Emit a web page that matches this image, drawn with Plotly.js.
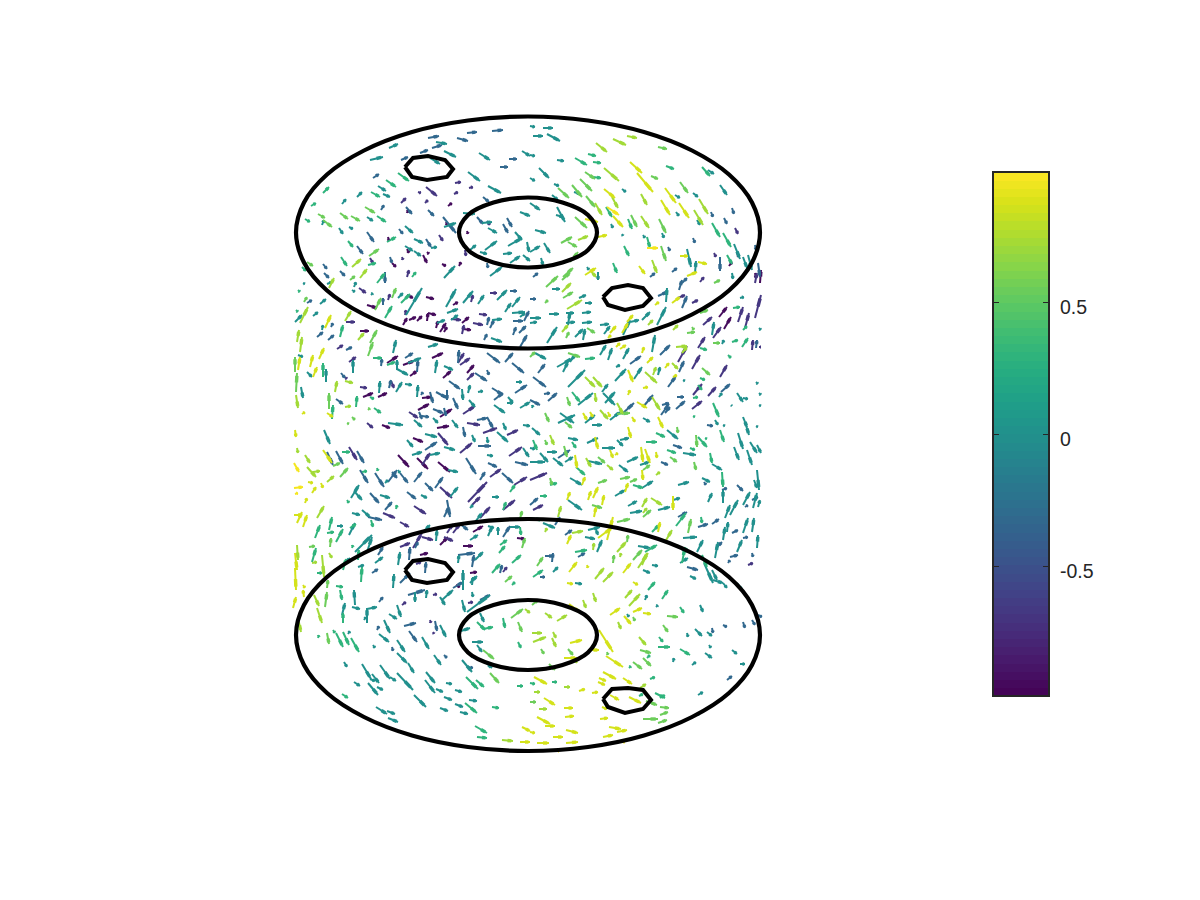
<!DOCTYPE html>
<html>
<head>
<meta charset="utf-8">
<script src="https://cdn.plot.ly/plotly-3.0.1.min.js"></script>
<style>html,body{margin:0;padding:0;background:#fff}</style>
</head>
<body>
<div id="chart" style="width:1200px;height:900px"></div>
<script>
// Rows: tail x, tail y, head x, head y, colour level (index into levelValues)
const arrowsTopLeft = [
428,138,439,136,3, 457,138,468,141,3, 467,133,477,132,3, 492,131,503,130,3, 436,142,447,144,4, 432,148,442,145,3, 420,153,428,150,3,
389,148,398,144,4, 444,151,456,157,4, 401,160,408,157,3, 370,160,383,157,4, 479,153,490,160,4, 509,159,517,159,3, 522,151,530,156,4,
500,167,508,167,3, 430,158,440,164,4, 468,172,480,181,4, 373,178,379,174,3, 398,173,409,181,5, 386,180,396,187,5, 378,186,386,191,4,
323,193,329,187,5, 357,197,362,192,4, 371,192,380,197,5, 383,194,390,197,4, 342,204,346,199,4, 311,206,316,203,5, 365,207,375,213,6,
381,210,384,205,3, 318,214,325,218,6, 323,220,332,227,6, 340,213,348,219,6, 351,216,360,221,6, 367,217,373,221,4, 377,216,386,222,5,
305,219,310,222,5, 322,225,324,220,4, 339,228,343,234,4, 349,227,353,229,4, 405,226,413,233,4, 399,229,403,234,3, 367,232,374,242,3,
387,242,396,237,5, 388,237,389,241,1, 414,239,423,243,4, 426,239,431,247,3, 431,248,437,247,4, 439,235,443,241,2, 348,241,353,247,5,
357,246,363,254,3, 405,246,413,251,4, 414,251,421,256,4, 407,249,409,253,1, 427,252,429,254,1, 423,255,427,263,1, 369,256,379,249,6,
352,267,361,259,7, 341,257,347,266,5, 370,258,373,263,2, 368,265,376,263,5, 390,257,392,263,3, 392,263,396,267,1, 402,257,403,260,2,
307,262,313,266,6, 302,267,306,271,5, 323,264,327,269,3, 324,273,329,278,3, 340,271,345,276,3, 360,278,367,269,7, 350,280,355,276,6,
442,264,446,266,1, 459,266,461,262,1, 444,278,455,266,4, 407,277,409,270,2, 412,277,416,272,5, 443,217,456,233,3, 444,227,456,223,4,
446,222,447,225,1, 467,231,468,234,1, 426,187,437,196,2, 418,192,421,193,2, 401,203,406,198,2, 425,203,428,200,2, 454,194,458,192,2,
469,188,473,187,2, 455,183,461,182,2, 448,206,452,203,1, 428,210,434,216,3, 406,207,412,214,3, 407,210,408,213,1, 488,186,501,193,4,
483,197,489,202,3, 463,213,475,214,4, 477,217,483,224,3, 482,223,492,222,4, 487,221,490,225,2, 488,228,497,233,4, 503,224,508,233,3,
507,218,512,227,3, 520,212,530,216,4, 515,232,522,240,4, 508,246,522,238,4, 485,250,497,241,4, 470,250,476,245,4, 480,252,487,254,4,
503,254,512,253,4, 510,263,520,256,4, 523,255,530,261,4, 527,242,529,252,4, 465,250,466,256,2, 487,263,488,268,3, 490,276,502,267,4
];
const arrowsTopRight = [
543,128,553,128,4, 530,126,535,127,4, 533,136,543,136,4, 547,134,560,141,4, 530,155,535,156,4, 557,160,564,161,4, 575,158,587,165,5,
588,154,596,156,5, 593,162,601,163,5, 596,143,607,152,7, 613,139,626,145,7, 627,136,637,138,7, 658,147,667,149,6, 630,162,642,173,8,
666,166,674,169,5, 604,168,619,181,7, 585,172,595,179,6, 593,177,601,178,5, 637,173,653,192,8, 651,176,658,179,6, 702,167,710,176,5,
708,170,714,174,4, 539,168,549,178,4, 530,178,535,181,4, 580,179,592,191,6, 554,184,559,186,4, 572,185,582,197,6, 558,188,569,198,6,
574,192,580,194,4, 604,189,615,198,8, 612,197,618,208,7, 622,189,626,192,4, 586,196,595,207,6, 595,203,602,215,7, 607,207,619,215,9,
606,207,612,217,5, 613,216,623,227,8, 641,194,647,205,7, 665,188,676,203,8, 675,195,680,198,4, 680,182,688,193,6, 693,193,698,197,4,
699,199,708,214,7, 720,185,727,195,4, 661,200,670,215,8, 679,203,689,218,8, 676,212,679,216,4, 694,210,703,225,7, 697,220,700,225,4,
711,212,713,217,3, 732,208,734,214,3, 724,218,727,224,3, 631,215,637,227,6, 628,219,632,229,5, 641,216,649,228,7, 659,219,666,233,6,
712,223,720,237,5, 723,233,731,247,5, 735,228,738,234,2, 611,224,613,228,4, 622,234,623,236,4, 643,235,645,238,4, 647,237,650,248,5,
662,233,664,238,4, 693,238,695,243,3, 624,246,629,256,5, 661,246,666,261,6, 647,248,658,248,9, 668,247,670,251,3, 680,256,688,256,8,
687,249,691,267,4, 734,244,740,259,4, 755,245,756,250,3, 714,253,716,257,2, 737,253,739,257,1, 727,255,732,264,5, 748,255,752,270,4,
743,257,747,268,4, 720,257,720,271,3, 729,266,732,262,1, 698,262,707,264,8, 652,260,657,273,7, 639,266,645,274,8, 672,272,677,268,3,
650,277,655,273,3, 687,276,697,272,8, 695,273,696,261,4, 732,273,733,279,4, 758,263,760,277,3, 755,273,756,278,1, 613,263,617,273,5,
585,275,596,268,8, 590,270,596,277,7, 598,272,598,280,4, 563,277,573,268,6, 562,280,570,273,6, 587,267,589,270,4, 533,277,538,273,3,
570,262,578,252,6, 561,243,572,237,6, 568,242,577,247,6, 578,240,588,236,7, 575,217,587,228,6, 557,207,565,222,4, 556,215,563,217,4,
530,203,540,210,4, 535,230,546,233,4, 544,243,550,253,4, 530,252,540,246,4, 552,195,558,200,4, 585,219,598,222,8, 598,237,607,235,8,
541,258,543,265,4
];
const arrowsUpperLeft = [
329,288,334,278,7, 327,284,332,282,4, 298,290,300,292,5, 303,283,305,284,4, 354,287,356,282,4, 352,290,355,292,4, 359,288,366,293,2,
371,295,373,293,4, 377,283,385,273,5, 385,272,385,283,3, 392,298,396,288,6, 383,305,383,298,3, 388,300,390,294,2, 375,310,381,298,6,
367,305,377,308,1, 304,302,307,297,6, 307,303,312,300,3, 320,304,326,299,4, 296,310,298,312,5, 300,323,308,307,7, 295,322,302,315,4,
313,316,318,312,4, 325,328,331,315,8, 331,327,333,323,3, 322,330,323,325,4, 317,337,323,332,3, 328,340,334,335,3, 340,337,343,325,5,
345,321,351,311,7, 346,322,355,322,2, 358,340,364,333,7, 360,331,369,331,1, 370,343,377,330,6, 385,318,392,306,5, 401,303,410,294,5,
398,298,403,293,4, 407,295,413,298,1, 406,315,422,288,4, 403,325,407,318,1, 405,315,406,310,2, 426,297,434,299,1, 409,320,416,317,1,
417,321,422,316,1, 427,321,428,313,1, 428,313,436,315,1, 446,307,456,289,4, 453,305,458,302,1, 463,303,473,291,4, 471,302,473,295,2,
478,304,484,295,4, 490,293,497,293,2, 497,300,507,290,4, 510,291,517,291,3, 505,312,511,303,4, 512,307,520,297,4, 520,317,525,313,4,
447,313,458,309,4, 451,320,458,315,4, 436,328,438,321,1, 437,323,445,320,4, 451,319,461,320,2, 462,323,469,317,1, 479,314,487,315,2,
487,325,489,317,3, 492,320,502,319,4, 473,323,483,325,2, 490,328,494,320,3, 512,313,525,312,4, 513,321,523,321,3, 524,321,529,311,3,
440,332,446,323,1, 444,332,447,327,1, 462,334,464,325,2, 463,329,471,330,1, 491,338,502,342,4, 484,340,487,334,3, 513,335,516,327,3,
519,333,526,326,3, 520,347,527,335,3, 428,347,438,344,4, 393,353,396,340,4, 373,358,382,358,5, 381,366,382,359,3, 387,363,398,356,1,
387,365,395,362,5, 397,370,397,360,4, 405,358,413,353,3, 403,365,414,361,1, 408,363,421,358,4, 397,369,408,375,4, 417,372,418,360,3,
410,376,417,371,1, 432,358,443,353,1, 435,373,437,360,4, 444,366,453,370,4, 443,378,451,371,1, 458,363,459,350,3, 458,363,464,353,2,
460,365,470,358,2, 467,373,474,365,1, 467,380,474,373,2, 475,373,487,381,3, 487,353,500,363,3, 505,362,513,353,3, 487,370,489,375,3,
512,363,524,373,3, 516,382,522,382,4, 515,393,527,385,3, 337,349,343,345,2, 346,350,352,347,3, 349,362,356,357,2, 368,356,373,342,6,
353,373,353,360,4, 341,373,345,378,3, 345,377,347,379,2, 345,381,353,383,7, 335,392,337,381,7, 323,377,323,363,5, 326,382,326,369,4,
307,372,312,377,4, 310,367,313,355,8, 319,359,324,348,8, 313,377,317,367,8, 300,352,302,337,7, 297,342,299,330,7, 295,372,295,357,6,
298,370,300,357,8, 298,355,303,357,4, 296,392,297,373,6, 301,387,303,398,4, 296,395,298,408,7, 329,409,329,393,6, 332,419,333,405,5,
327,413,333,417,8, 302,414,305,412,8, 336,399,343,404,3, 345,407,351,406,7, 356,407,357,396,5, 352,417,355,420,6, 368,410,370,408,6,
374,408,381,413,5, 347,423,349,424,6, 360,387,367,388,2, 363,397,373,393,1, 370,397,374,399,5, 378,397,387,393,1, 379,393,380,381,4,
389,388,391,380,3, 391,381,394,388,2, 396,392,402,382,4, 405,384,412,385,4, 417,397,418,385,4, 421,395,423,392,3, 422,398,431,397,1,
430,392,433,403,3, 436,392,447,398,3, 447,390,447,400,3, 449,381,460,389,3, 462,389,463,400,4, 468,393,470,385,4, 478,392,483,391,4,
492,388,503,395,3, 494,400,503,393,3, 508,397,513,403,4, 507,403,513,403,4, 494,405,505,413,4, 520,408,530,402,4, 453,398,458,409,3,
418,410,429,404,1, 433,409,443,413,3, 440,417,452,409,1, 444,408,446,416,3, 463,414,475,406,2, 469,400,475,407,4, 409,412,418,418,2,
419,412,422,419,3, 422,416,429,417,3, 414,420,422,427,4, 433,418,438,423,4, 452,420,458,428,4, 467,423,480,425,2, 477,420,487,418,3,
487,417,493,428,3, 503,423,506,430,4, 523,425,530,426,4, 367,423,373,428,2, 382,425,390,428,1, 388,423,403,425,4
];
const arrowsUpperRight = [
546,287,558,276,6, 552,289,560,289,4, 562,292,571,283,7, 563,298,573,292,6, 579,298,586,295,4, 545,303,548,300,6, 530,299,536,299,3,
567,309,582,300,7, 585,303,592,303,4, 549,314,559,314,4, 566,313,574,313,4, 582,313,591,312,4, 530,318,541,318,4, 530,323,537,322,4,
566,323,575,322,4, 582,323,592,322,4, 562,332,568,325,7, 568,325,570,312,4, 566,338,569,332,6, 547,343,557,327,4, 575,337,583,329,4,
583,340,585,329,4, 587,328,595,333,6, 600,325,609,324,4, 604,334,610,326,4, 610,333,616,326,8, 608,338,611,335,8, 622,333,628,323,8,
623,335,630,320,4, 627,322,633,315,8, 630,322,639,320,4, 642,320,650,312,4, 648,325,653,320,7, 657,325,666,307,4, 655,305,659,302,8,
658,296,667,292,3, 666,302,667,288,4, 678,298,685,295,2, 672,303,680,297,8, 682,308,687,296,3, 679,290,682,280,3, 682,283,687,278,3,
700,282,704,277,2, 692,303,698,300,2, 700,313,708,310,6, 703,325,712,317,2, 673,330,678,325,7, 687,333,695,332,6, 692,327,694,330,6,
712,335,714,322,4, 713,338,721,327,2, 719,317,727,307,1, 724,329,731,317,1, 738,322,743,307,2, 745,328,749,313,2, 755,318,761,295,2,
733,308,740,307,5, 714,283,720,280,6, 755,283,757,273,2, 760,283,761,270,1, 740,298,744,297,4, 759,328,761,330,4, 743,330,747,326,5,
652,352,655,335,4, 642,353,644,347,8, 623,359,629,348,4, 616,347,620,343,8, 620,349,626,345,8, 608,360,612,348,4, 600,355,606,345,4,
630,364,641,356,3, 660,355,670,345,3, 647,363,653,357,8, 665,368,669,363,8, 672,363,678,369,7, 676,347,687,346,7, 682,353,687,347,7,
678,362,687,346,2, 679,372,684,361,3, 698,348,705,337,2, 700,348,707,350,5, 713,343,720,343,6, 722,344,724,340,4, 732,342,738,340,5,
742,347,748,338,5, 752,350,753,340,2, 756,348,757,340,3, 759,347,761,347,2, 728,355,731,358,5, 692,369,700,355,2, 702,368,710,375,6,
720,377,727,365,2, 568,353,580,357,6, 535,353,546,359,4, 530,357,535,352,6, 570,362,575,355,4, 557,367,573,358,4, 563,372,568,362,4,
585,359,595,358,5, 538,373,545,364,3, 533,377,546,387,3, 568,387,585,370,4, 585,377,595,387,7, 593,377,602,387,7, 615,381,626,369,4,
616,367,620,365,4, 628,370,633,382,8, 634,379,642,367,4, 653,375,656,367,7, 645,372,657,383,7, 658,375,660,367,4, 668,387,676,376,3,
673,377,677,375,8, 683,380,685,381,4, 700,378,705,380,5, 693,395,702,384,2, 698,385,702,390,5, 708,396,716,387,2, 721,392,730,384,3,
756,382,758,384,4, 602,392,608,384,4, 643,388,648,387,8, 628,395,630,390,8, 544,394,550,393,3, 548,401,557,393,3, 567,397,570,406,6,
572,392,580,402,5, 578,405,593,393,4, 595,393,596,402,7, 603,393,615,405,4, 605,403,615,392,4, 617,403,623,414,7, 622,414,634,403,3,
643,407,653,395,3, 637,402,647,408,8, 652,397,660,410,7, 662,405,669,403,3, 661,415,669,404,3, 677,397,684,397,3, 676,409,685,401,3,
692,409,702,401,2, 693,398,698,397,5, 713,403,719,417,5, 737,393,743,402,4, 719,397,722,393,4, 731,405,732,406,4, 743,398,748,399,4,
759,393,761,395,4, 759,405,761,406,4, 530,400,540,405,3, 532,408,533,405,4, 545,413,549,422,6, 560,413,574,423,4, 558,423,575,415,4,
565,422,572,428,6, 583,413,587,420,8, 585,423,595,415,4, 590,412,593,417,8, 600,410,608,419,7, 608,412,610,417,8, 610,420,620,412,4,
617,414,630,413,6, 592,425,602,425,4, 632,417,635,422,8, 643,418,650,422,4, 658,417,663,428,8, 665,413,670,407,3, 693,416,695,417,5,
707,425,713,426,3, 715,420,718,425,4, 743,417,747,427,4, 756,426,758,427,4, 723,425,725,426,4
];
const arrowsLowerLeft = [
295,430,296,437,8, 297,448,298,453,7, 324,430,330,444,4, 305,455,310,463,7, 323,450,332,463,8, 327,452,333,465,3, 336,451,343,464,3,
342,452,350,452,5, 349,447,357,460,2, 357,451,364,463,3, 333,466,340,463,6, 294,463,299,472,9, 307,467,316,477,7, 313,472,320,471,7,
340,477,348,468,6, 327,482,334,476,7, 308,482,313,483,8, 321,483,323,488,8, 312,493,316,487,8, 294,488,303,487,9, 295,494,298,493,9,
305,503,307,498,8, 294,515,302,515,8, 297,523,302,512,8, 303,527,307,515,8, 317,518,324,506,7, 315,538,320,525,5, 329,530,332,517,5,
336,542,343,529,5, 327,533,334,532,5, 337,526,343,526,4, 349,535,355,523,4, 309,547,315,546,6, 312,562,316,548,5, 330,547,331,538,6,
297,545,298,560,7, 295,553,297,570,8, 322,555,324,577,7, 312,563,317,562,7, 329,553,332,558,7, 295,568,296,590,8, 317,573,322,573,5,
347,500,349,503,5, 351,498,359,485,4, 354,491,362,500,4, 360,470,368,483,3, 375,473,384,487,3, 362,472,367,471,5, 377,468,378,471,5,
385,483,388,480,4, 388,482,397,470,3, 398,470,400,473,4, 392,472,397,478,3, 400,473,408,483,3, 414,482,422,472,3, 398,455,409,467,1,
417,458,428,469,1, 422,465,430,453,2, 412,455,422,452,4, 430,455,440,453,4, 407,440,413,447,4, 413,438,423,442,1, 425,450,437,442,3,
425,434,437,437,4, 438,433,448,445,2, 444,447,455,450,4, 460,453,472,443,2, 438,462,450,472,1, 448,470,458,472,4, 466,458,476,474,3,
478,446,491,446,3, 487,455,493,456,4, 472,435,475,442,4, 463,427,465,437,3, 487,437,488,443,4, 437,428,449,426,1, 483,433,497,428,2,
497,432,508,442,4, 507,435,518,430,2, 509,456,522,447,2, 523,448,529,457,4, 488,463,497,467,3, 490,477,501,469,2, 502,473,513,483,3,
515,462,528,465,3, 514,485,527,477,2, 510,492,515,485,5, 480,480,485,472,3, 468,502,487,482,2, 472,505,480,497,2, 492,497,499,497,4,
503,510,506,502,5, 503,510,515,500,2, 440,487,452,498,2, 450,497,458,487,4, 435,488,443,477,3, 425,483,433,491,3, 421,495,427,498,4,
407,492,416,499,3, 414,506,426,514,2, 444,517,449,507,3, 447,500,450,517,3, 370,493,379,503,3, 380,495,390,498,4, 385,510,392,502,3,
396,509,397,505,5, 362,510,370,517,4, 352,513,360,515,4, 368,517,382,520,3, 383,513,395,518,2, 371,520,373,527,5, 350,528,356,524,5,
400,522,409,527,2, 470,508,473,505,4, 480,518,490,507,2, 475,522,482,513,4, 495,520,502,520,1, 520,519,522,511,6, 423,532,430,525,4,
436,541,437,530,4, 447,533,453,524,2, 453,533,460,524,2, 460,524,468,530,3, 473,532,483,526,1, 488,526,494,528,4, 488,536,492,527,4,
498,535,498,527,4, 503,537,510,526,3, 510,527,520,527,4, 522,548,525,538,6, 517,538,525,539,1, 520,527,521,535,5, 422,537,433,540,2,
413,548,422,533,2, 440,545,448,537,1, 444,537,453,541,2, 400,547,410,543,2, 409,560,410,547,3, 415,548,418,542,3, 463,546,473,546,1,
470,540,478,535,4, 500,545,507,540,5, 499,553,505,546,5, 512,563,521,555,5, 492,573,500,564,5, 500,573,502,565,3, 503,572,507,567,2,
505,582,512,576,6, 512,585,515,582,5, 458,555,475,553,3, 458,563,459,555,4, 472,567,474,555,3, 475,560,483,552,4, 470,573,477,572,1,
470,583,477,576,4, 420,555,428,553,1, 416,564,421,562,2, 425,573,426,562,3, 343,565,350,558,4, 343,570,346,559,5, 355,552,372,535,4,
358,560,359,550,5, 367,552,372,537,4, 352,548,353,545,5, 378,555,383,547,3, 375,563,383,557,4, 398,565,400,552,4, 358,567,364,565,4,
361,582,362,567,5, 372,573,378,569,3, 393,588,394,574,4, 400,583,410,573,3, 453,588,463,582,3, 456,585,460,587,1, 463,590,463,570,4,
472,585,473,577,4, 336,586,343,587,5, 327,588,328,580,6, 303,585,305,588,8
];
const arrowsLowerRight = [
532,428,540,435,4, 545,440,547,445,6, 550,435,554,445,7, 533,440,537,450,5, 530,448,535,449,4, 568,438,578,440,4, 572,442,576,448,5,
587,443,598,438,4, 595,437,598,449,8, 602,448,615,448,4, 610,450,613,458,8, 615,455,618,453,8, 617,440,623,446,4, 620,440,629,438,4,
628,427,631,438,8, 646,442,657,442,5, 656,433,665,437,5, 667,430,678,439,4, 677,427,678,433,6, 673,445,682,448,3, 667,450,676,453,5,
683,453,696,455,4, 690,448,695,450,5, 696,435,697,447,6, 698,437,707,447,5, 705,438,707,439,5, 720,430,724,442,5, 738,433,743,449,4,
734,447,739,460,4, 747,450,752,465,4, 750,442,757,453,4, 757,445,761,453,4, 745,422,749,435,4, 547,452,557,452,4, 558,458,570,450,3,
553,458,563,466,4, 540,453,548,462,4, 530,462,545,462,4, 565,462,573,457,4, 564,446,567,457,6, 575,455,577,468,8, 576,467,585,475,5,
586,458,591,467,7, 588,461,602,464,4, 598,457,605,463,6, 607,465,613,470,7, 619,465,628,472,4, 627,462,638,457,4, 641,447,643,462,8,
645,449,650,463,8, 656,452,657,458,8, 640,465,649,462,4, 642,470,643,480,8, 643,470,650,465,6, 656,475,660,472,7, 661,462,668,465,3,
670,457,677,462,6, 694,462,696,470,6, 710,453,712,463,5, 712,464,722,470,4, 722,472,723,487,5, 702,478,710,482,4, 704,482,706,485,3,
678,485,689,482,4, 737,485,743,491,3, 757,470,759,490,4, 754,480,757,488,4, 722,490,727,488,3, 723,503,723,490,4, 708,502,712,493,4,
743,505,750,492,4, 752,500,758,497,3, 753,508,757,493,4, 758,507,760,500,4, 725,518,730,505,4, 730,515,738,500,4, 745,507,748,505,3,
588,500,591,491,8, 593,498,598,487,8, 602,505,604,495,8, 594,517,596,507,8, 592,505,602,508,6, 567,500,570,492,8, 568,500,582,510,4,
558,517,561,506,7, 540,496,547,496,5, 530,505,538,498,3, 533,510,543,505,2, 530,480,547,473,2, 550,478,552,485,6, 550,485,557,483,5,
570,478,582,485,4, 582,485,585,477,8, 598,483,607,480,6, 620,479,630,477,6, 625,492,628,483,8, 615,496,625,490,4, 630,482,637,479,6,
633,485,643,488,5, 642,488,653,481,4, 628,506,637,501,4, 630,513,642,511,4, 642,507,647,498,7, 643,513,647,508,7, 643,517,651,510,6,
651,498,662,505,7, 658,510,670,507,4, 673,496,673,510,8, 673,500,680,498,4, 676,526,686,513,5, 678,517,687,512,3, 688,533,691,519,6,
701,517,702,523,5, 698,527,708,524,3, 712,524,719,519,3, 723,540,725,527,4, 727,532,728,522,4, 732,533,738,530,3, 743,533,748,518,4,
752,532,754,518,4, 743,538,748,537,3, 757,548,758,535,4, 737,552,742,540,4, 716,548,722,542,3, 697,552,703,540,4, 715,558,718,542,4,
730,557,738,555,3, 752,553,753,557,3, 748,565,753,563,2, 728,563,730,560,3, 683,538,697,537,4, 687,567,698,570,3, 690,576,696,579,4,
712,570,717,580,4, 704,563,713,583,4, 658,532,660,522,8, 652,532,659,525,5, 665,542,672,530,7, 682,563,685,547,5, 617,552,626,542,7,
598,538,613,527,8, 607,540,613,517,8, 617,522,630,519,6, 588,530,600,527,4, 595,527,598,535,4, 585,537,595,539,4, 572,533,583,531,7,
565,535,572,530,3, 567,544,571,535,8, 543,523,555,528,4, 555,525,560,517,3, 545,532,547,528,7, 530,518,542,520,5, 627,542,628,535,6,
597,552,602,540,4, 593,550,594,543,7, 575,552,587,550,5, 578,557,585,553,3, 545,556,553,556,3, 552,562,553,553,3, 537,566,543,557,6,
553,572,558,567,4, 533,577,543,570,5, 540,577,545,577,3, 569,572,577,562,8, 587,565,588,568,8, 595,579,604,568,7, 603,582,613,572,7,
613,563,614,555,6, 620,557,621,553,7, 623,573,631,563,8, 638,568,648,553,7, 633,560,642,550,6, 642,565,647,553,7, 645,552,657,545,5,
638,546,650,548,4, 652,565,658,566,4, 643,570,650,573,4, 567,583,573,584,8, 575,583,582,584,4, 633,582,638,585,8, 648,590,655,582,5,
677,545,687,552,3, 683,555,687,548,5, 680,563,688,558,4, 702,555,707,567,5, 713,580,723,583,4, 723,583,727,588,4, 737,583,742,590,4
];
const arrowsBottomLeft = [
293,608,296,597,8, 304,597,303,590,8, 314,595,319,606,7, 325,607,327,592,6, 340,590,342,600,5, 355,605,354,590,4, 352,607,360,609,4,
342,615,345,603,4, 343,623,343,613,5, 317,608,322,623,7, 298,618,301,632,7, 367,623,367,608,4, 367,609,377,607,4, 364,620,366,617,4,
379,602,383,597,3, 389,614,397,619,4, 397,605,401,617,4, 402,605,406,602,2, 384,620,390,633,4, 377,630,379,626,3, 404,626,416,623,3,
409,631,417,642,3, 379,634,389,642,4, 422,637,429,649,4, 430,620,431,623,2, 435,621,437,631,3, 440,625,446,637,4, 433,632,434,634,2,
408,595,425,590,3, 415,592,415,602,4, 426,598,427,590,4, 433,595,437,594,2, 442,600,453,590,4, 440,597,445,605,4, 462,600,465,612,4,
468,603,473,602,2, 467,612,490,595,4, 472,592,473,597,4, 480,600,490,595,3, 480,613,484,622,4, 477,622,485,630,5, 483,629,493,627,5,
503,618,505,628,5, 511,618,523,609,6, 525,609,530,613,7, 518,622,522,632,6, 518,642,521,648,5, 458,632,470,628,4, 472,642,483,642,4,
477,645,482,652,4, 483,650,494,659,6, 468,652,474,658,4, 462,660,472,672,4, 468,667,473,668,3, 485,662,492,668,4, 490,673,499,683,6,
434,655,441,665,4, 444,655,447,658,3, 397,653,407,663,4, 397,640,405,652,4, 408,663,414,673,4, 392,647,393,651,3, 373,645,375,648,4,
351,638,359,652,5, 343,632,349,645,5, 336,633,343,647,5, 333,630,335,633,5, 348,634,350,631,4, 318,638,319,635,5, 327,633,329,644,6,
344,662,347,667,4, 362,664,371,679,4, 372,674,379,683,4, 370,679,375,681,4, 380,665,390,679,4, 390,677,396,681,4, 397,673,413,690,4,
426,672,435,683,4, 425,680,435,693,4, 354,682,360,686,4, 377,687,383,690,4, 368,683,378,695,4, 342,694,348,698,5, 414,695,426,707,4,
436,689,443,692,4, 446,683,452,684,4, 455,690,462,692,4, 466,677,478,689,5, 476,680,484,687,5, 444,697,452,700,4, 455,704,463,707,4,
465,703,477,713,5, 469,700,477,701,4, 440,708,448,711,4, 460,712,468,714,4, 492,707,499,708,5, 376,707,387,714,4, 387,711,395,714,4,
388,718,398,722,4, 475,726,487,733,5, 477,737,487,738,5, 502,740,513,741,7, 520,742,530,742,8, 522,727,530,731,8, 517,686,523,686,5
];
const arrowsBottomRight = [
532,605,538,600,6, 545,613,552,618,7, 557,621,567,615,7, 569,604,581,613,8, 583,600,586,608,7, 593,593,596,602,7, 610,615,620,608,8,
624,616,631,624,8, 627,614,629,617,4, 618,622,621,629,7, 633,617,635,621,6, 633,612,642,608,8, 643,613,651,614,8, 629,606,640,594,7,
625,598,632,590,7, 662,599,668,590,5, 645,600,647,595,4, 656,607,658,605,4, 680,607,684,613,5, 700,605,703,612,4, 667,616,678,617,6,
663,625,668,632,6, 532,633,542,633,7, 553,632,556,638,7, 533,642,546,637,7, 552,638,556,647,7, 570,643,582,640,8, 541,649,544,654,6,
568,649,573,655,6, 564,658,577,658,8, 573,657,577,663,7, 549,664,555,670,6, 588,650,599,650,8, 599,630,613,652,8, 606,656,623,667,8,
607,652,608,655,6, 639,637,646,645,7, 640,650,651,653,6, 643,658,651,666,6, 633,662,642,669,6, 647,658,650,655,5, 658,647,670,647,5,
659,637,663,642,5, 680,649,690,655,5, 695,629,702,636,4, 707,632,712,636,4, 687,633,688,637,4, 712,628,713,633,3, 723,625,727,627,3,
743,622,745,628,3, 752,620,755,625,3, 758,615,762,617,3, 732,650,737,654,4, 709,645,711,648,4, 705,653,712,658,4, 692,665,696,662,4,
673,662,674,658,4, 740,664,745,664,4, 727,680,732,676,3, 698,695,703,692,4, 629,668,631,666,5, 603,672,616,679,8, 599,678,606,681,8,
598,682,605,685,8, 623,678,632,684,8, 650,679,655,677,5, 640,688,646,684,7, 534,677,547,684,8, 552,682,557,682,5, 530,683,535,684,5,
564,687,570,687,7, 579,691,585,689,8, 592,693,598,692,8, 610,695,619,700,8, 629,697,641,703,8, 646,701,657,705,6, 639,696,643,694,5,
655,693,665,698,5, 660,698,665,695,5, 660,707,669,708,6, 660,715,668,712,6, 643,719,658,719,6, 658,723,667,720,6, 544,698,555,705,8,
534,692,540,692,7, 530,702,536,702,6, 564,708,573,708,8, 539,709,547,709,7, 565,717,574,716,8, 600,719,608,718,8, 602,707,607,709,8,
537,717,550,724,8, 545,726,555,726,8, 566,730,578,733,8, 609,727,621,729,8, 617,732,627,730,8, 603,737,613,735,8, 553,737,563,737,8,
530,732,535,733,8, 537,743,549,743,8, 566,743,578,742,8, 557,751,559,751,9, 622,742,625,742,9, 661,730,663,729,5, 697,715,699,714,4
];

const levelColors = [null,'#450c5c','#453781','#31688e','#21908d','#2fb47c','#6ccd5a','#a2da37','#d4e21a','#f4e61e'];
const outerX = [760,752,729,692,644,588,528,468,412,364,327,304,296,304,327,364,412,468,528,588,644,692,729,752,760];
const topOuterY = [232.5,262.5,290.5,314.5,333,344.5,348.5,344.5,333,314.5,290.5,262.5,232.5,202.5,174.5,150.5,132,120.5,116.5,120.5,132,150.5,174.5,202.5,232.5];
const bottomOuterY = [635,665,693,717,735.5,747,751,747,735.5,717,693,665,635,605,577,553,534.5,523,519,523,534.5,553,577,605,635];
const innerX = [597,588,562.5,528,493.5,468,459,468,493.5,528,562.5,588,597];
const topInnerY = [232.5,250,262.5,267.5,262.5,250,232.5,215,202.5,197.5,202.5,215,232.5];
const bottomInnerY = [635,652.5,665,670,665,652.5,635,617.5,605,600,605,617.5,635];
const holeAX = [405,413,428,445,453,447,427,412,405];
const topHoleAY = [167,158,156,160,169,177,180,177,167];
const bottomHoleAY = [570,561,559,563,572,580,583,580,570];
const holeBX = [603,612,628,643,651,643,625,608,603];
const topHoleBY = [297,288,285,288,298,306,310,305,297];
const bottomHoleBY = [699,689,688,690,700,709,713,707,699];
const colorbarLevels = [-0.975,-0.944,-0.913,-0.882,-0.851,-0.82,-0.789,-0.758,-0.727,-0.696,-0.665,-0.634,-0.603,-0.572,-0.541,-0.51,-0.479,-0.448,-0.417,-0.386,-0.355,-0.324,-0.293,-0.262,-0.231,-0.2,-0.169,-0.138,-0.107,-0.076,-0.045,-0.014,0.017,0.048,0.079,0.11,0.141,0.172,0.203,0.234,0.265,0.296,0.327,0.358,0.389,0.42,0.451,0.482,0.513,0.544,0.575,0.606,0.637,0.668,0.699,0.73,0.761,0.792,0.823,0.854,0.885,0.916,0.947,0.978];
const colorbarTicks = [-0.5,0,0.5];
const colorbarTickText = ['-0.5','0','0.5'];

const allArrows = [].concat(arrowsTopLeft,arrowsTopRight,arrowsUpperLeft,arrowsUpperRight,arrowsLowerLeft,arrowsLowerRight,arrowsBottomLeft,arrowsBottomRight);
const traces = [];
for (let lv = 1; lv <= 9; lv++) {
  const xs = [], ys = [], hx = [], hy = [];
  for (let i = 0; i < allArrows.length; i += 5) {
    if (allArrows[i + 4] !== lv) continue;
    const x0 = allArrows[i], y0 = allArrows[i + 1], x1 = allArrows[i + 2], y1 = allArrows[i + 3];
    xs.push(x0, x1, null);
    ys.push(y0, y1, null);
    hx.push(x0 + 0.5 * (x1 - x0), x0 + 0.85 * (x1 - x0), null);
    hy.push(y0 + 0.5 * (y1 - y0), y0 + 0.85 * (y1 - y0), null);
  }
  traces.push({type: 'scatter', mode: 'lines', x: xs, y: ys, xaxis: 'x', yaxis: 'y', connectgaps: false,
    hoverinfo: 'skip', showlegend: false, line: {color: levelColors[lv], width: 2}});
  traces.push({type: 'scatter', mode: 'lines', x: hx, y: hy, xaxis: 'x', yaxis: 'y', connectgaps: false,
    hoverinfo: 'skip', showlegend: false, line: {color: levelColors[lv], width: 3.4}});
}
function ring(x, y, w, smooth) {
  return {type: 'scatter', mode: 'lines', x: x, y: y, xaxis: 'x', yaxis: 'y', hoverinfo: 'skip', showlegend: false,
    line: {color: '#000', width: w, shape: smooth ? 'spline' : 'linear', smoothing: 1}};
}
traces.push(ring(outerX, topOuterY, 4.2, true), ring(outerX, bottomOuterY, 4.2, true),
  ring(innerX, topInnerY, 4.2, true), ring(innerX, bottomInnerY, 4.2, true),
  ring(holeAX, topHoleAY, 4, false), ring(holeAX, bottomHoleAY, 4, false),
  ring(holeBX, topHoleBY, 4, false), ring(holeBX, bottomHoleBY, 4, false));
traces.push({
  type: 'heatmap', x: [0], y: colorbarLevels, z: colorbarLevels.map(v => [v]), xaxis: 'x2', yaxis: 'y2',
  colorscale: 'Viridis', zmin: -0.99, zmax: 0.995, showscale: false, hoverinfo: 'skip', xgap: 0, ygap: 0
});

const layout = {
  width: 1200, height: 900, margin: {l: 0, r: 0, t: 0, b: 0}, showlegend: false,
  paper_bgcolor: '#fff', plot_bgcolor: 'rgba(0,0,0,0)',
  font: {family: 'Liberation Sans, Arial, sans-serif', color: '#262626'},
  xaxis: {domain: [0, 1], range: [0, 1200], visible: false, fixedrange: true},
  yaxis: {domain: [0, 1], range: [900, 0], visible: false, fixedrange: true},
  xaxis2: {domain: [994 / 1200, 1048 / 1200], anchor: 'y2', range: [-0.5, 0.5], showticklabels: false, ticks: '', showgrid: false,
    zeroline: false, showline: true, mirror: true, linecolor: '#262626', linewidth: 2, fixedrange: true},
  yaxis2: {domain: [(900 - 695) / 900, (900 - 173) / 900], anchor: 'x2', side: 'right', range: [-0.986, 0.991],
    tickmode: 'array', tickvals: colorbarTicks, ticktext: ['', '', ''], ticks: 'inside', ticklen: 5, tickwidth: 1.5, tickcolor: '#262626',
    showgrid: false, zeroline: false, showline: true, mirror: 'ticks',
    linecolor: '#262626', linewidth: 2, fixedrange: true},
  annotations: colorbarTicks.map((t, i) => ({
    text: colorbarTickText[i], xref: 'paper', x: 1059 / 1200, xanchor: 'left', yref: 'y2', y: t, yanchor: 'middle', yshift: -4,
    showarrow: false, align: 'left', borderpad: 0, font: {family: 'Liberation Sans, Arial, sans-serif', size: 19.5, color: '#262626'}
  }))
};
Plotly.newPlot('chart', traces, layout, {staticPlot: true, displayModeBar: false});
</script>
</body>
</html>
